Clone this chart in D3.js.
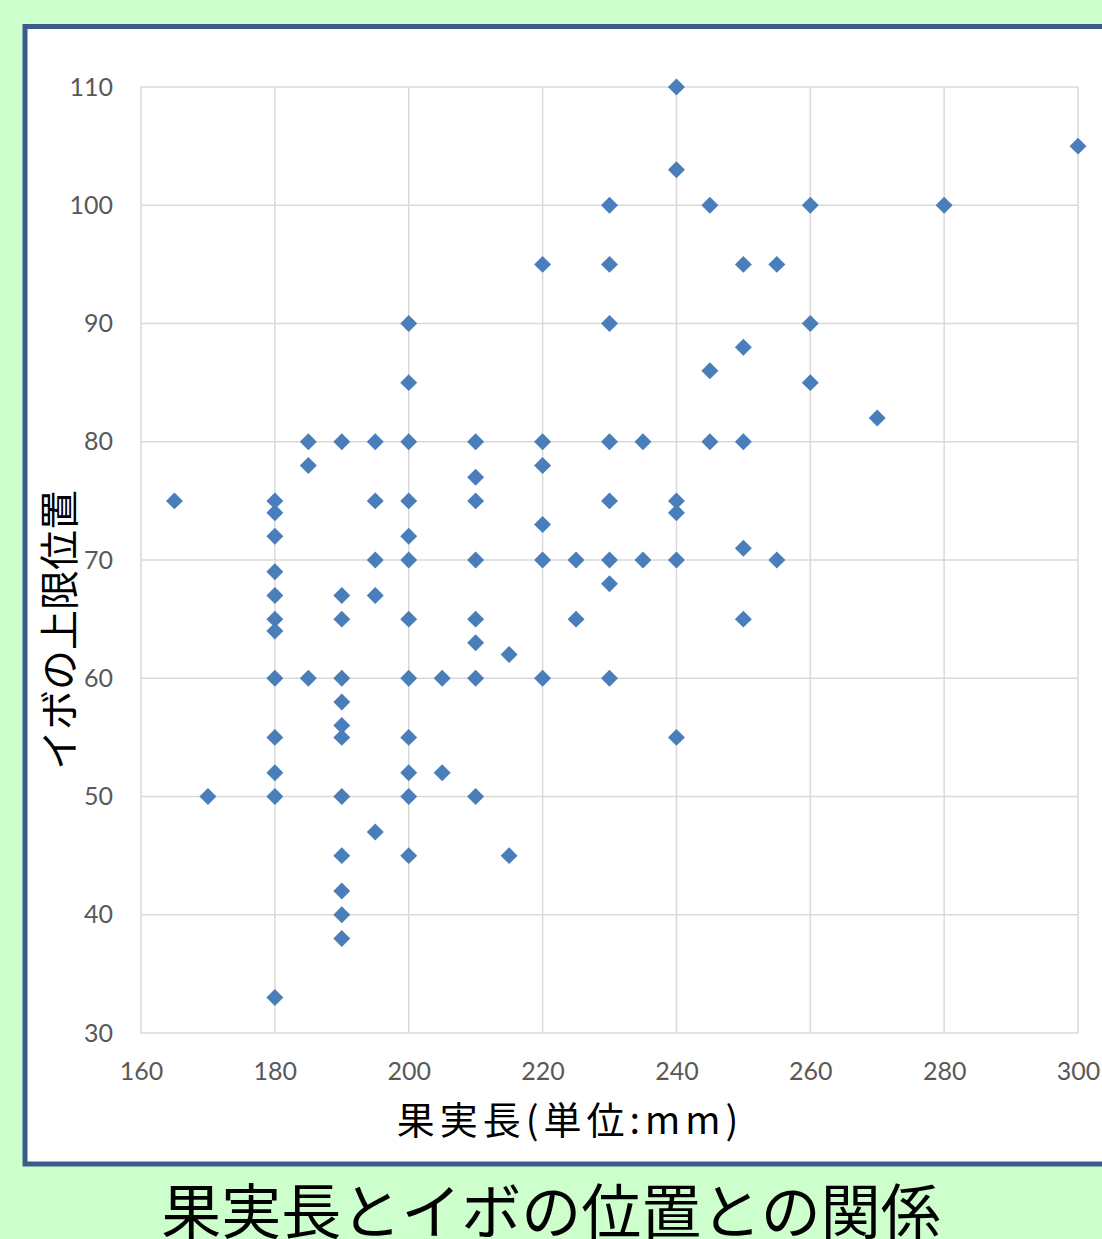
<!DOCTYPE html>
<html lang="ja">
<head>
<meta charset="utf-8">
<script src="https://cdn.jsdelivr.net/npm/d3@7"></script>
<style>
  html, body { margin: 0; padding: 0; background: #ccffcc; }
  svg { display: block; }
  .tick text { font-family: Lato, "Open Sans", sans-serif; font-size: 25px; fill: #595959; }
  .jp { font-family: "Noto Sans CJK JP", sans-serif; fill: #000; }
</style>
</head>
<body>
<svg id="chart" width="1102" height="1239"></svg>
<script>
// 果実長 (mm) ごとに測ったイボの上限位置
const fruitLength = [
  165, 170,
  180, 180, 180, 180, 180, 180, 180, 180, 180, 180, 180, 180,
  185, 185, 185,
  190, 190, 190, 190, 190, 190, 190, 190, 190, 190, 190, 190,
  195, 195, 195, 195, 195,
  200, 200, 200, 200, 200, 200, 200, 200, 200, 200, 200, 200,
  205, 205,
  210, 210, 210, 210, 210, 210, 210, 210,
  215, 215,
  220, 220, 220, 220, 220, 220,
  225, 225,
  230, 230, 230, 230, 230, 230, 230, 230,
  235, 235,
  240, 240, 240, 240, 240, 240,
  245, 245, 245,
  250, 250, 250, 250, 250,
  255, 255,
  260, 260, 260,
  270, 280, 300
];
const wartTop = [
  75, 50,
  75, 74, 72, 69, 67, 65, 64, 60, 55, 52, 50, 33,
  80, 78, 60,
  80, 67, 65, 60, 58, 56, 55, 50, 45, 42, 40, 38,
  80, 75, 70, 67, 47,
  90, 85, 80, 75, 72, 70, 65, 60, 55, 52, 50, 45,
  60, 52,
  80, 77, 75, 70, 65, 63, 60, 50,
  62, 45,
  95, 80, 78, 73, 70, 60,
  70, 65,
  100, 95, 90, 80, 75, 70, 68, 60,
  80, 70,
  110, 103, 75, 74, 70, 55,
  100, 86, 80,
  95, 88, 80, 71, 65,
  95, 70,
  100, 90, 85,
  82, 100, 105
];
const xTicks = [160, 180, 200, 220, 240, 260, 280, 300];
const yTicks = [30, 40, 50, 60, 70, 80, 90, 100, 110];

const xTitle = "果実長(単位:mm)";
const yTitle = "イボの上限位置";
const mainTitle = "果実長とイボの位置との関係";

const svg = d3.select("#chart");

// white chart panel with blue frame (runs off the right edge)
svg.append("rect")
  .attr("x", 25).attr("y", 26.5)
  .attr("width", 1110).attr("height", 1137.5)
  .attr("fill", "#ffffff")
  .attr("stroke", "#3b5b8a")
  .attr("stroke-width", 5);

const x = d3.scaleLinear().domain([160, 300]).range([141, 1078]);
const y = d3.scaleLinear().domain([30, 110]).range([1033, 87]);

const grid = svg.append("g").attr("stroke", "#d9d9d9").attr("stroke-width", 1.5);
grid.selectAll("line.v").data(xTicks).join("line")
  .attr("class", "v")
  .attr("x1", d => x(d)).attr("x2", d => x(d))
  .attr("y1", y(30)).attr("y2", y(110));
grid.selectAll("line.h").data(yTicks).join("line")
  .attr("class", "h")
  .attr("x1", x(160)).attr("x2", x(300))
  .attr("y1", d => y(d)).attr("y2", d => y(d));

// axis labels
const yAxis = svg.append("g")
  .attr("transform", `translate(${x(160)},0)`)
  .call(d3.axisLeft(y).tickValues(yTicks).tickSize(0).tickPadding(28));
yAxis.select(".domain").remove();

const xAxis = svg.append("g")
  .attr("transform", `translate(0,${y(30)})`)
  .call(d3.axisBottom(x).tickValues(xTicks).tickSize(0).tickPadding(29));
xAxis.select(".domain").remove();

// diamond markers
const diamond = d3.symbol().type(d3.symbolSquare).size(144);
svg.append("g").selectAll("path")
  .data(fruitLength.map((v, i) => [v, wartTop[i]]))
  .join("path")
  .attr("d", diamond)
  .attr("transform", d => `translate(${x(d[0])},${y(d[1])}) rotate(45)`)
  .attr("fill", "#4a7ebb");

// axis titles
svg.append("text").attr("class", "jp")
  .attr("x", 570).attr("y", 1134)
  .attr("text-anchor", "middle")
  .attr("font-size", 38)
  .attr("letter-spacing", 5)
  .text(xTitle);

svg.append("text").attr("class", "jp")
  .attr("transform", "translate(74,630) rotate(-90)")
  .attr("text-anchor", "middle")
  .attr("font-size", 40)
  .text(yTitle);

// chart title below the panel
svg.append("text").attr("class", "jp")
  .attr("x", 551).attr("y", 1234)
  .attr("text-anchor", "middle")
  .attr("font-size", 60)
  .text(mainTitle);
</script>
</body>
</html>
